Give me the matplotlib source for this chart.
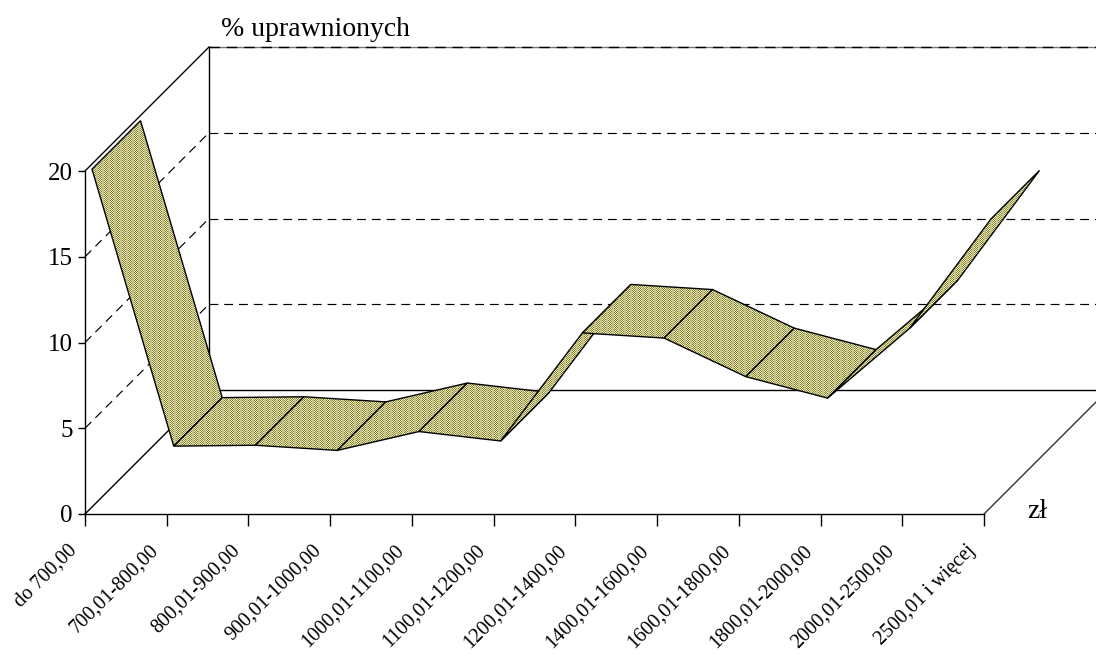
import numpy as np
import matplotlib
matplotlib.use('Agg')
import matplotlib.pyplot as plt
from matplotlib.patches import Polygon
from matplotlib.transforms import ScaledTranslation

categories = ['do 700,00', '700,01-800,00', '800,01-900,00', '900,01-1000,00',
              '1000,01-1100,00', '1100,01-1200,00', '1200,01-1400,00', '1400,01-1600,00',
              '1600,01-1800,00', '1800,01-2000,00', '2000,01-2500,00', '2500,01 i więcej']
values = [19.7, 3.55, 3.6, 3.3, 4.4, 3.85, 10.15, 9.85, 7.6, 6.35, 10.4, 16.8]
y_ticks = [0, 5, 10, 15, 20]

W, H = 1096, 654
X0, Y0 = 85, 514
X_STEP = 81.73
Y_STEP = 17.15
DEPTH = 124
RIBBON_NEAR = 7 / DEPTH
RIBBON_FAR = 55.5 / DEPTH
TEXT_FONT = 'Liberation Serif'
LW = 1.0
DASH = (0, (7.5, 5))


def proj(i, v, d):
    # category, value and depth (0-1) to the data coords of the flat axes
    return i + d * DEPTH / X_STEP, v + d * DEPTH / Y_STEP


fig = plt.figure(figsize=(W / 100, H / 100), dpi=100)
ax = fig.add_axes([0, 0, 1, 1])
ax.patch.set_visible(False)
xlim = (-X0 / X_STEP, (W - X0) / X_STEP)
ylim = ((Y0 - H) / Y_STEP, Y0 / Y_STEP)

# walls and floor
for v in y_ticks[1:-1]:
    ax.plot(*zip(proj(0, v, 0), proj(0, v, 1)), color='k', lw=0.85, ls=DASH, zorder=1)
    ax.plot([proj(0, v, 1)[0], xlim[1]], [proj(0, v, 1)[1]] * 2, color='k', lw=0.85, ls=DASH, zorder=1)
ax.plot([proj(0, 20, 1)[0], xlim[1]], [proj(0, 20, 1)[1]] * 2, color='#777777', lw=LW, zorder=1)
ax.plot([proj(0, 20, 1)[0], xlim[1]], [proj(0, 20, 1)[1]] * 2, color='k', lw=LW, ls=DASH, zorder=1)
ax.plot(*zip(proj(0, 20, 0), proj(0, 20, 1)), color='k', lw=LW, zorder=1)
ax.plot(*zip(proj(0, 0, 1), proj(0, 20, 1)), color='k', lw=LW, zorder=1)
ax.plot(*zip(proj(0, 0, 0), proj(0, 0, 1)), color='k', lw=LW, zorder=1)
ax.plot([proj(0, 0, 1)[0], xlim[1]], [proj(0, 0, 1)[1]] * 2, color='k', lw=LW, zorder=1)
ax.plot(*zip(proj(11, 0, 0), proj(11, 0, 1)), color='#333333', lw=LW, zorder=1)

# ribbon texture, checker columns of olive and pale yellow next to plain beige ones
olive = [125, 125, 45]
pale = [240, 240, 195]
beige = [198, 194, 135]
tile = np.array([[beige, beige, olive, pale, olive, pale],
                 [beige, beige, pale, olive, pale, olive]], dtype=np.uint8)
texture = np.tile(tile, (H // 2 + 1, W // 6 + 1, 1))[:H, :W]

for n in range(len(values) - 1):
    pts = [proj(n, values[n], RIBBON_NEAR), proj(n + 1, values[n + 1], RIBBON_NEAR),
           proj(n + 1, values[n + 1], RIBBON_FAR), proj(n, values[n], RIBBON_FAR)]
    z = 2 + n * 0.1
    im = ax.imshow(texture, extent=(xlim[0], xlim[1], ylim[0], ylim[1]), aspect='auto',
                   interpolation='nearest', zorder=z)
    im.set_clip_path(Polygon(pts, closed=True, transform=ax.transData))
    ax.add_patch(Polygon(pts, closed=True, fill=False, edgecolor='k', lw=LW, zorder=z + 0.01))

ax.set_xlim(xlim)
ax.set_ylim(ylim)

for side in ['top', 'right']:
    ax.spines[side].set_visible(False)
ax.spines['bottom'].set_position(('data', 0))
ax.spines['left'].set_position(('data', 0))
ax.spines['bottom'].set_bounds(0, len(categories) - 1)
ax.spines['left'].set_bounds(0, 20)
ax.spines['bottom'].set_linewidth(LW)
ax.spines['left'].set_linewidth(LW)

ax.set_xticks(range(len(categories)))
ax.set_xticklabels(categories, rotation=45, ha='right', va='top', rotation_mode='anchor',
                   fontfamily=TEXT_FONT, fontsize=14.5)
ax.set_yticks(y_ticks)
ax.set_yticklabels([str(v) for v in y_ticks], fontfamily=TEXT_FONT, fontsize=18)
ax.tick_params(axis='x', direction='out', length=8.6, width=LW, pad=6)
ax.tick_params(axis='y', direction='out', length=5, width=LW, pad=4)

# has to come after tick_params, that one resets the label transforms
shift = ScaledTranslation(-0.18, -0.07, fig.dpi_scale_trans)
for label in ax.get_xticklabels():
    label.set_transform(label.get_transform() + shift)

ax.text(221 / X_STEP + xlim[0], (Y0 - 36) / Y_STEP, '% uprawnionych', fontfamily=TEXT_FONT, fontsize=20,
        ha='left', va='baseline')
ax.text((1027 - X0) / X_STEP, (Y0 - 518) / Y_STEP, 'zł', fontfamily=TEXT_FONT, fontsize=20,
        ha='left', va='baseline')

fig.savefig('out.png', dpi=100)
